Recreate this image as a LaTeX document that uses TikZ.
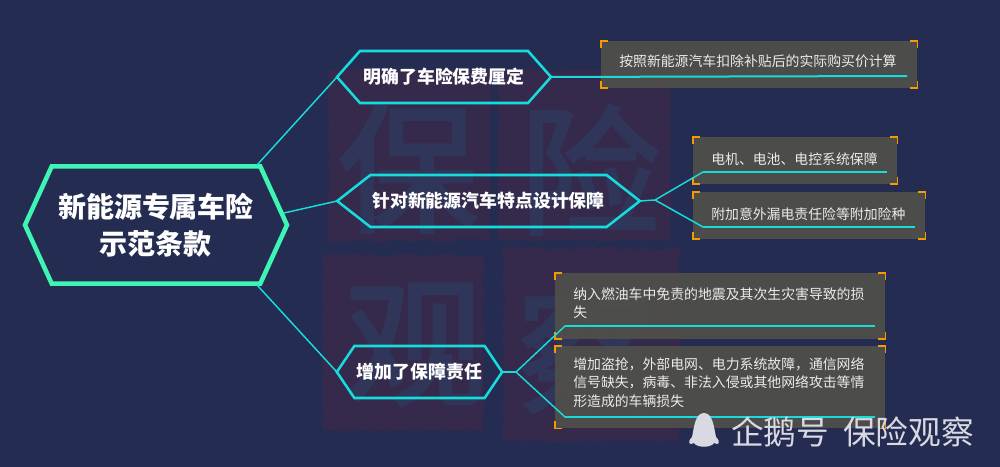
\documentclass[tikz,border=0pt]{standalone}
\usepackage{fontspec}
\setmainfont{Noto Sans CJK SC}
\newfontfamily\stampfont[FakeBold=2.5]{Noto Sans CJK SC}
\usetikzlibrary{shapes.symbols, decorations.pathmorphing}
\definecolor{bgblue}{HTML}{252C52}
\definecolor{stampred}{HTML}{35294C}
\definecolor{stampblue}{HTML}{2F3659}
\definecolor{linecyan}{HTML}{16DDDC}
\definecolor{rootgreen}{HTML}{3FF5B4}
\definecolor{boxgrey}{HTML}{504F4A}
\definecolor{cornerorange}{HTML}{F59A00}
\definecolor{logogrey}{HTML}{D8D9E2}
\tikzset{
    hexnode/.style={signal, signal to=east and west, draw=linecyan, line width=1.9pt, inner sep=0pt, outer sep=0pt,
        text=white, font=\fontsize{13.4}{16}\selectfont\bfseries},
    infobox/.style={anchor=north west, fill=boxgrey, fill opacity=0.93, inner sep=0pt, minimum width=#1},
    infotext/.style={text=white!92!black, font=\fontsize{10.4}{13.9}\selectfont, inner sep=0pt, align=left},
    stamp/.style={fill=stampred, inner sep=0pt, anchor=north west, decorate, decoration={random steps, segment length=5pt, amplitude=1.2pt}},
    stampchar/.style={text=stampblue, font=\fontsize{105}{105}\stampfont},
    link/.style={draw=linecyan, line width=1.1pt, line join=round},
    underline/.style={draw=linecyan, line width=1.5pt, line join=round},
    bracket/.style={draw=cornerorange, line width=1.4pt},
    logotext/.style={text=logogrey, font=\fontsize{24.5}{28}\selectfont}
}
\begin{document}
\begin{tikzpicture}[x=0.75pt, y=-0.75pt]
    \useasboundingbox (0,0) rectangle (1000,467);
    \fill[bgblue] (0,0) rectangle (1000,467);

    % watermark
    \node [stamp, minimum width=121.5pt, minimum height=127.5pt] (stampA) at (328,70) {};
    \node [stamp, minimum width=129pt, minimum height=127.5pt] (stampB) at (498,70) {};
    \node [stamp, minimum width=120pt, minimum height=131pt] (stampC) at (323,255) {};
    \node [stamp, minimum width=132pt, minimum height=144pt] (stampD) at (503,248) {};
    \node [stampchar] (charA) at (408,168) {保};
    \node [stampchar] (charB) at (590,170) {险};
    \node [stampchar] (charC) at (415,345) {观};
    \node [stampchar] (charD) at (587,350) {察};

    % hexagons
    \node [hexnode, line width=3.4pt, draw=rootgreen, fill=bgblue, signal pointer angle=131, minimum width=196.5pt, minimum height=88pt,
        font=\fontsize{21}{27.7}\selectfont\bfseries, align=center] (root) at (156,225) {新能源专属车险\\示范条款};
    \node [hexnode, signal pointer angle=97, minimum width=160.5pt, minimum height=39pt] (hexA) at (444,77) {明确了车险保费厘定};
    \node [hexnode, signal pointer angle=76, minimum width=227pt, minimum height=39pt] (hexB) at (488.5,201) {针对新能源汽车特点设计保障};
    \node [hexnode, signal pointer angle=112, minimum width=124pt, minimum height=39pt] (hexC) at (419.5,372) {增加了保障责任};

    % boxes
    \node [infobox=237pt, minimum height=35pt] (boxA) at (601,41) {};
    \node [infobox=153pt, minimum height=35pt] (boxB) at (693,137) {};
    \node [infobox=174pt, minimum height=35pt] (boxC) at (693,192) {};
    \node [infobox=247.5pt, minimum height=49pt] (boxD) at (555,273) {};
    \node [infobox=247.5pt, minimum height=61.5pt] (boxE) at (555,346) {};
    \node [infotext, anchor=west] (textA) at (619,61) {按照新能源汽车扣除补贴后的实际购买价计算};
    \node [infotext, anchor=west] (textB) at (711,159) {电机、电池、电控系统保障};
    \node [infotext, anchor=west] (textC) at (711,214) {附加意外漏电责任险等附加险种};
    \node [infotext, anchor=north west] (textD) at (573,287) {纳入燃油车中免责的地震及其次生灾害导致的损\\失};
    \node [infotext, anchor=north west] (textE) at (573,357) {增加盗抢，外部电网、电力系统故障，通信网络\\信号缺失，病毒、非法入侵或其他网络攻击等情\\形造成的车辆损失};

    \foreach \b in {boxA,boxB,boxC,boxD,boxE} {
        \draw[bracket] ([xshift=5.5pt]\b.north west) -- (\b.north west) -- ([yshift=-5.5pt]\b.north west);
        \draw[bracket] ([xshift=-5.5pt]\b.north east) -- (\b.north east) -- ([yshift=-5.5pt]\b.north east);
        \draw[bracket] ([xshift=5.5pt]\b.south west) -- (\b.south west) -- ([yshift=5.5pt]\b.south west);
        \draw[bracket] ([xshift=-5.5pt]\b.south east) -- (\b.south east) -- ([yshift=5.5pt]\b.south east);
    }

    % connectors
    \coordinate (rootA) at (257,165);
    \coordinate (rootB) at (284,213);
    \coordinate (rootC) at (257,285);
    \coordinate (jointB) at (655,200);
    \coordinate (jointC) at (516,372);
    \coordinate (endA) at (907,76);
    \coordinate (kneeB) at (703,172);
    \coordinate (endB) at (887,172);
    \coordinate (kneeC) at (703,227);
    \coordinate (endC) at (915,227);
    \coordinate (kneeD) at (565,326);
    \coordinate (endD) at (875,326);
    \coordinate (kneeE) at (565,417);
    \coordinate (endE) at (875,417);

    \draw[link] (rootA) -- (hexA.west);
    \draw[link] (rootB) -- (hexB.west);
    \draw[link] (rootC) -- (hexC.west);
    \draw[underline] (hexA.east) -- (endA);
    \draw[link] (hexB.east) -- (jointB);
    \draw[link] (jointB) -- (kneeB);
    \draw[link] (jointB) -- (kneeC);
    \draw[underline] (kneeB) -- (endB);
    \draw[underline] (kneeC) -- (endC);
    \draw[link] (hexC.east) -- (jointC);
    \draw[link] (jointC) -- (kneeD);
    \draw[link] (jointC) -- (kneeE);
    \draw[underline] (kneeD) -- (endD);
    \draw[underline] (kneeE) -- (endE);

    % logo
    \fill[logogrey] (704,413) .. controls (695,413) and (694,428) .. (692,437) .. controls (687,442) and (689,446) .. (694,443) .. controls (697,448) and (711,448) .. (714,443) .. controls (719,446) and (721,442) .. (716,437) .. controls (714,428) and (713,413) .. (704,413) -- cycle;
    \node [logotext, anchor=west, inner sep=0pt] (logoA) at (731,432) {企鹅号};
    \node [logotext, anchor=west, inner sep=0pt] (logoB) at (843,432) {保险观察};
\end{tikzpicture}
\end{document}
